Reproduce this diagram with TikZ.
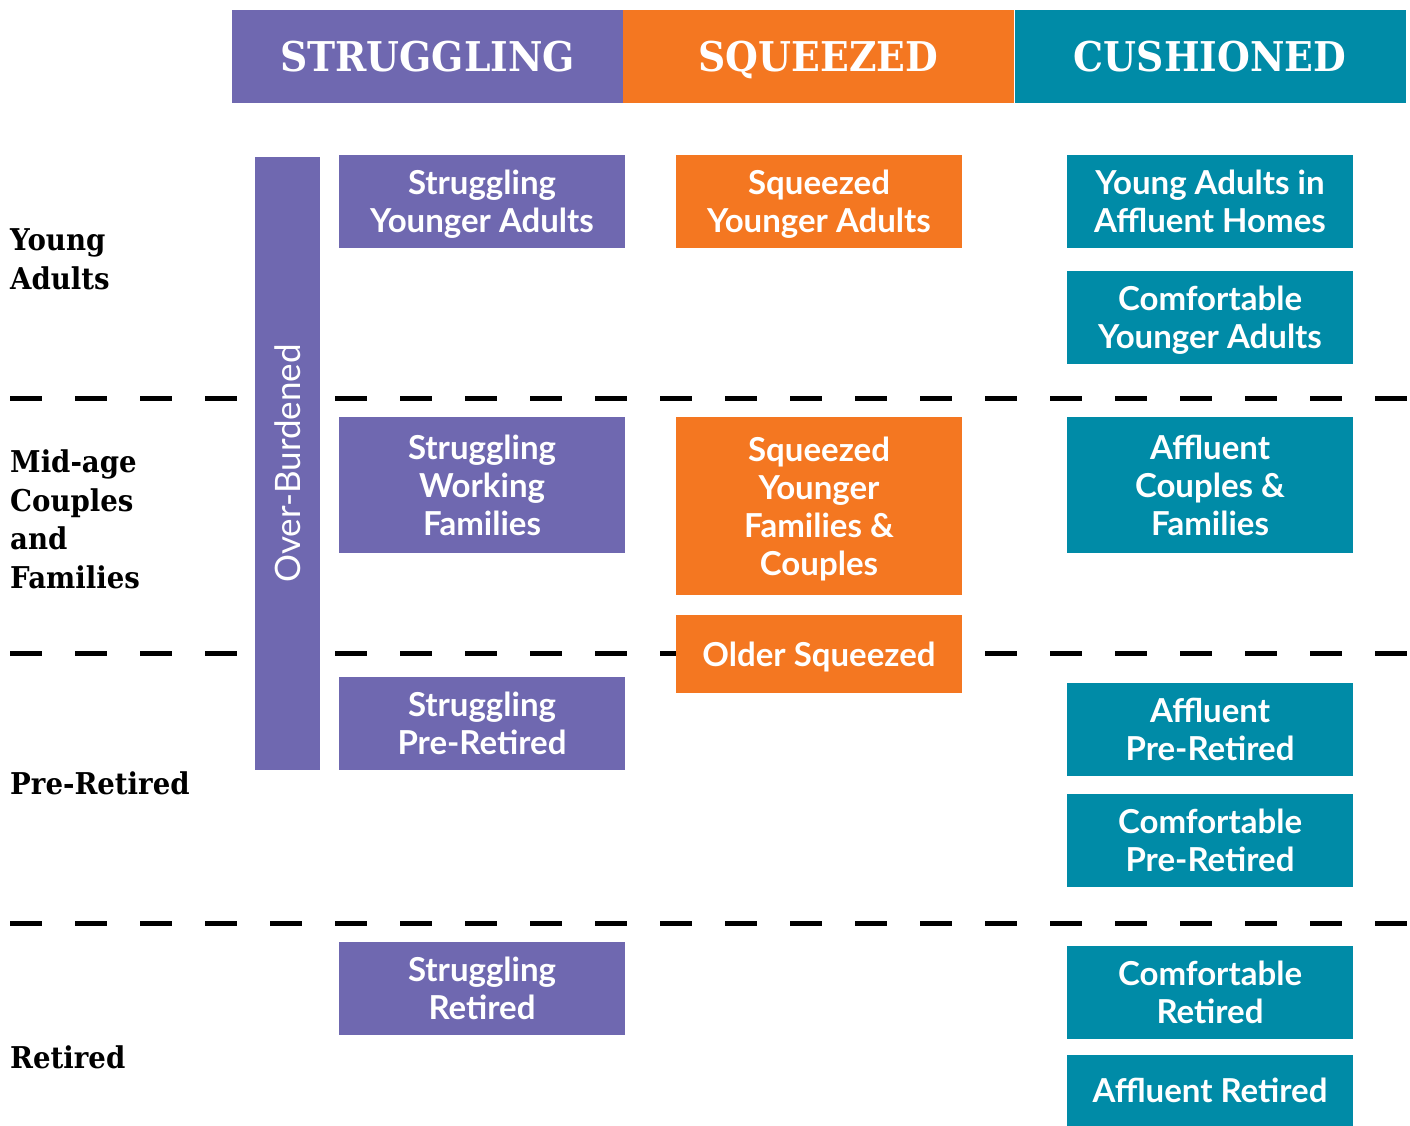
\documentclass[tikz,border=0pt]{standalone}
\usepackage{fontspec}
\usepackage{tikz}
\newfontfamily\slabfont{DejaVu Serif}[FakeStretch=0.92]
\newfontfamily\boxfont{Lato}
\definecolor{strpurple}{RGB}{111, 104, 176}
\definecolor{sqzorange}{RGB}{244, 119, 33}
\definecolor{cushteal}{RGB}{0, 139, 167}

\begin{document}
\begin{tikzpicture}[x = 1pt, y = -1pt,
			head/.style = {inner sep = 0pt, minimum width = 391pt, minimum height = 93pt, text height = 30pt, text depth = 0pt, text = white, font = \slabfont\bfseries\fontsize{41}{41}\selectfont},
			seg/.style = {inner sep = 0pt, minimum width = 286pt, text depth = 0pt, text = white, align = center, font = \boxfont\bfseries\fontsize{33}{38}\selectfont},
			row/.style = {inner sep = 0pt, anchor = west, align = left, font = \slabfont\bfseries\fontsize{30}{38.5}\selectfont},
			sep/.style = {line width = 5pt, dash pattern = on 32pt off 33pt}]
			\useasboundingbox (0,0) rectangle (1410,1126);
			% separators first, boxes lie over them
			\foreach \y in {398, 653, 923}
				\draw[sep] (10,\y) -- (1407,\y);
			\node (hstr) at (427.5,56.5) [head, fill = strpurple] {STRUGGLING};
			\node (hsqz) at (818.5,56.5) [head, fill = sqzorange] {SQUEEZED};
			\node (hcsh) at (1210,56.5) [head, fill = cushteal] {CUSHIONED};
			\node (ya) at (10,259.5) [row] {Young\\Adults};
			\node (mid) at (10,519.5) [row] {Mid-age\\Couples\\and\\Families};
			\node (pre) at (10,783) [row] {Pre-Retired};
			\node (ret) at (10,1057) [row] {Retired};
			\node (over) at (287.5,463.5) [fill = strpurple, inner sep = 0pt, minimum width = 613pt, minimum height = 65pt, rotate = 90, text = white, font = \boxfont\fontsize{35}{35}\selectfont] {Over-Burdened};
			\node (sya) at (482,201.5) [seg, fill = strpurple, minimum height = 93pt] {Struggling\\Younger Adults};
			\node (swf) at (482,485) [seg, fill = strpurple, minimum height = 136pt] {Struggling\\Working\\Families};
			\node (spr) at (482,723.5) [seg, fill = strpurple, minimum height = 93pt] {Struggling\\Pre-Retired};
			\node (sr) at (482,988.5) [seg, fill = strpurple, minimum height = 93pt] {Struggling\\Retired};
			\node (qya) at (819,201.5) [seg, fill = sqzorange, minimum height = 93pt] {Squeezed\\Younger Adults};
			\node (qyf) at (819,506) [seg, fill = sqzorange, minimum height = 178pt] {Squeezed\\Younger\\Families \&\\Couples};
			\node (qos) at (819,654) [seg, fill = sqzorange, minimum height = 78pt] {Older Squeezed};
			\node (yaah) at (1210,201.5) [seg, fill = cushteal, minimum height = 93pt] {Young Adults in\\Affluent Homes};
			\node (cya) at (1210,317.5) [seg, fill = cushteal, minimum height = 93pt] {Comfortable\\Younger Adults};
			\node (acf) at (1210,485) [seg, fill = cushteal, minimum height = 136pt] {Affluent\\Couples \&\\Families};
			\node (apr) at (1210,729.5) [seg, fill = cushteal, minimum height = 93pt] {Affluent\\Pre-Retired};
			\node (cpr) at (1210,840.5) [seg, fill = cushteal, minimum height = 93pt] {Comfortable\\Pre-Retired};
			\node (cr) at (1210,992.5) [seg, fill = cushteal, minimum height = 93pt] {Comfortable\\Retired};
			\node (ar) at (1210,1090.5) [seg, fill = cushteal, minimum height = 71pt] {Affluent Retired};
\end{tikzpicture}
\end{document}
